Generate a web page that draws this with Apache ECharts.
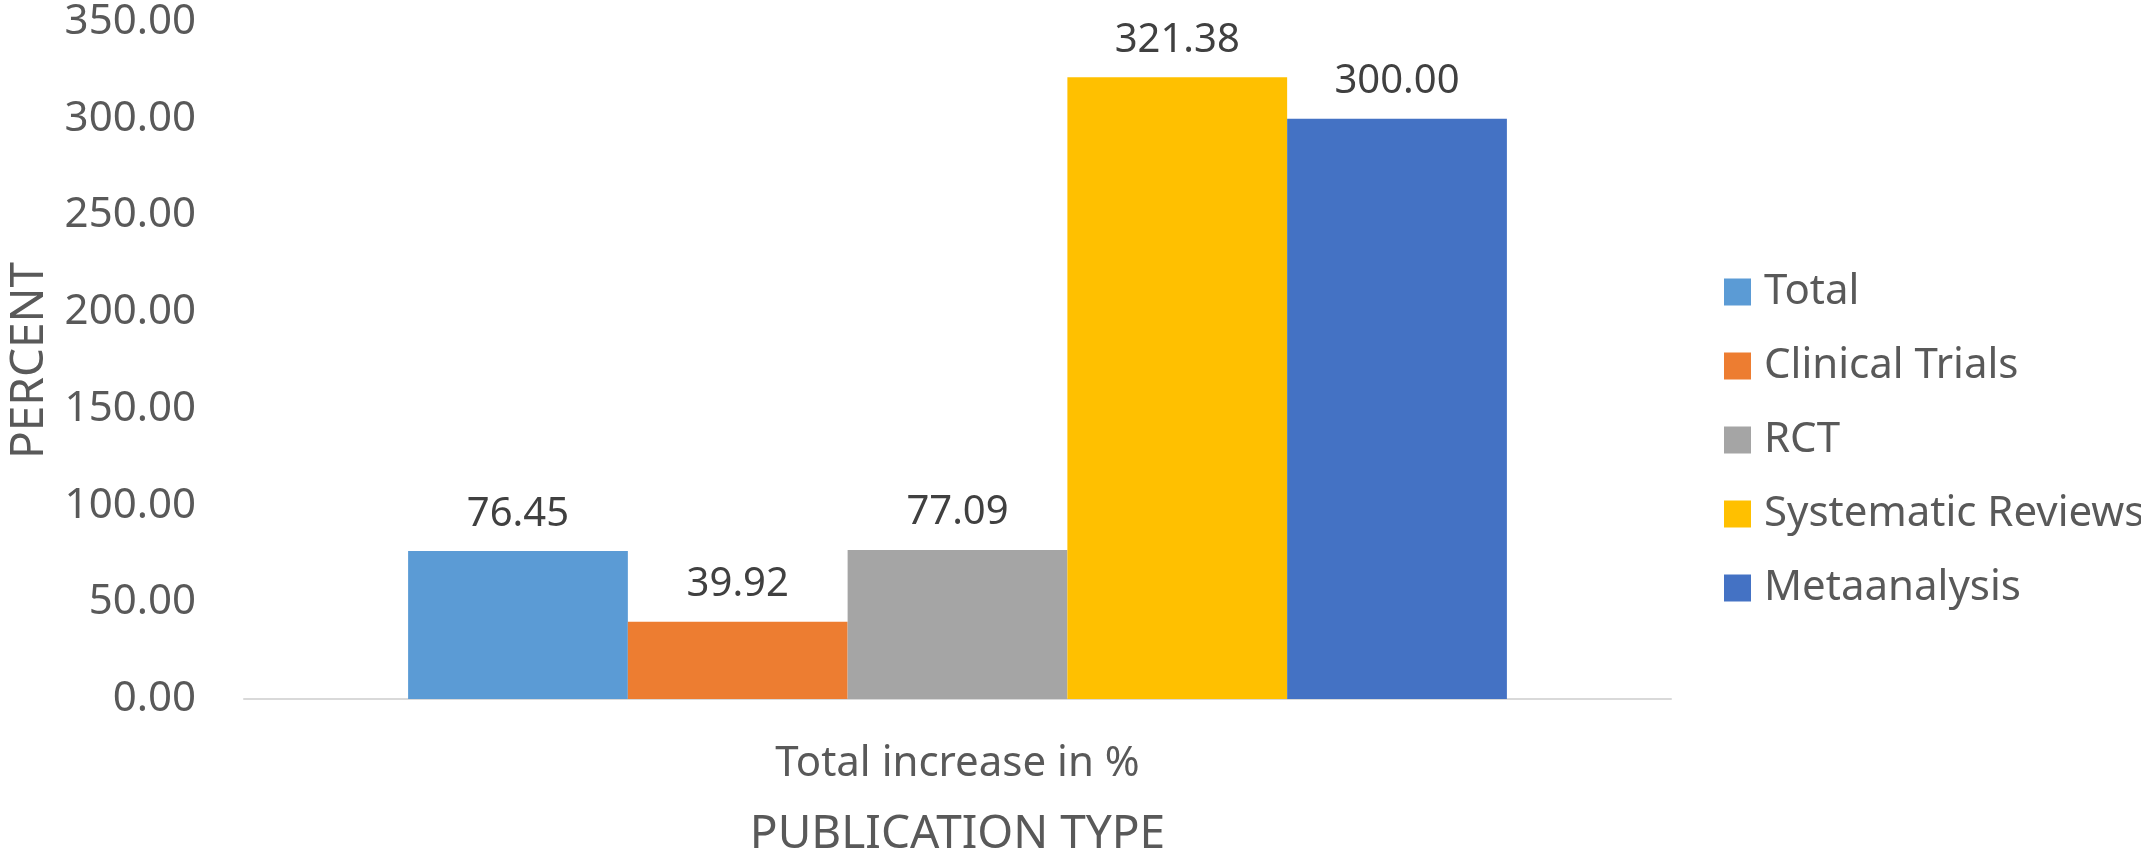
<!DOCTYPE html>
<html>
<head>
<meta charset="utf-8">
<title>Publication type increase</title>
<script src="https://cdn.jsdelivr.net/npm/echarts@6/dist/echarts.min.js"></script>
<style>
  html, body { margin: 0; padding: 0; background: #fff; }
  #chart { width: 2141px; height: 858px; }
</style>
</head>
<body>
<div id="chart"></div>
<script>
// data
const categories = ['Total increase in %'];
const seriesNames = ['Total', 'Clinical Trials', 'RCT', 'Systematic Reviews', 'Metaanalysis'];
const seriesValues = [76.45, 39.92, 77.09, 321.38, 300.00];
const seriesColors = ['#5B9BD5', '#ED7D31', '#A5A5A5', '#FFC000', '#4472C4'];
const yTicks = { min: 0, max: 350, interval: 50 };

const font = 'Noto Sans';

const chart = echarts.init(document.getElementById('chart'));

const series = seriesNames.map((name, i) => ({
  name: name,
  type: 'bar',
  data: [seriesValues[i]],
  barGap: 0,
  barCategoryGap: '23%',
  itemStyle: { color: seriesColors[i] },
  label: {
    show: true,
    position: 'top',
    distance: 17,
    color: '#404040',
    fontFamily: font,
    fontSize: 40,
    formatter: p => p.value.toFixed(2)
  }
}));

chart.setOption({
  animation: false,
  textStyle: { fontFamily: font },
  grid: { left: 244, right: 470, top: 22, bottom: 159, outerBoundsMode: 'none', containLabel: false },
  legend: {
    orient: 'vertical',
    left: 1719,
    top: 266,
    itemWidth: 27,
    itemHeight: 27,
    itemGap: 32,
    icon: 'rect',
    data: seriesNames,
    textStyle: {
      color: '#595959',
      fontFamily: font,
      fontSize: 42,
      padding: [0, 0, 0, 8]
    }
  },
  xAxis: {
    type: 'category',
    data: categories,
    name: 'PUBLICATION TYPE',
    nameLocation: 'middle',
    nameGap: 113,
    nameTextStyle: { color: '#595959', fontFamily: font, fontSize: 46 },
    axisLine: { lineStyle: { color: '#D9D9D9', width: 2 } },
    axisTick: { show: false },
    axisLabel: { color: '#595959', fontFamily: font, fontSize: 42, margin: 44 }
  },
  yAxis: {
    type: 'value',
    min: yTicks.min,
    max: yTicks.max,
    interval: yTicks.interval,
    name: 'PERCENT',
    nameLocation: 'middle',
    nameRotate: 90,
    nameGap: 191,
    nameTextStyle: { color: '#595959', fontFamily: font, fontSize: 46 },
    axisLine: { show: false },
    axisTick: { show: false },
    splitLine: { show: false },
    axisLabel: {
      color: '#595959',
      fontFamily: font,
      fontSize: 42,
      margin: 48,
      formatter: v => v.toFixed(2)
    }
  },
  series: series
});
</script>
</body>
</html>
